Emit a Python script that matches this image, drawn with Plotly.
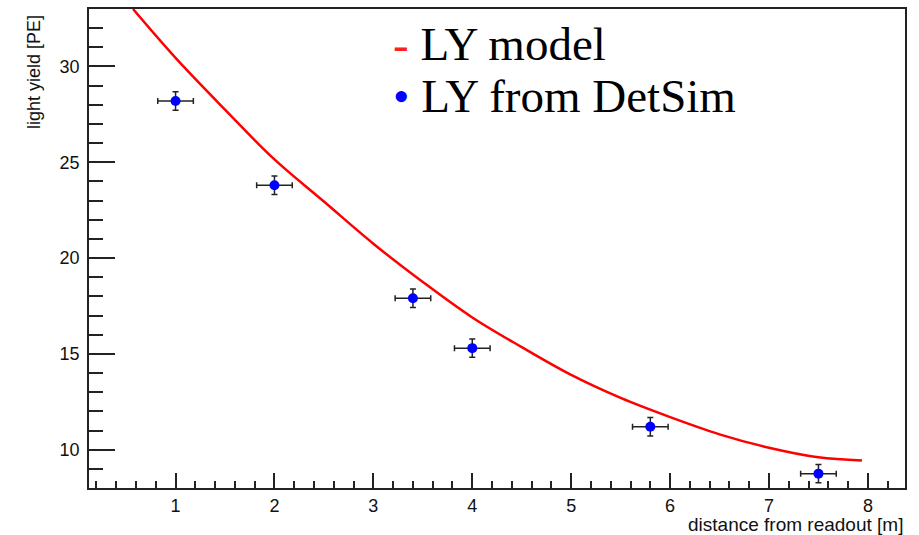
import plotly.graph_objects as go

# Simulated points (DetSim)
dist = [1.0, 2.0, 3.4, 4.0, 5.8, 7.5]
ly = [28.2, 23.8, 17.9, 15.3, 11.2, 8.75]
dist_err = [0.18, 0.18, 0.18, 0.18, 0.18, 0.18]
ly_err = [0.48, 0.48, 0.48, 0.48, 0.48, 0.48]

# LY model curve
model_x = [0.57, 1.0, 1.5, 2.0, 2.5, 3.0, 3.5, 4.0, 4.5, 5.0, 5.5, 6.0, 6.5, 7.0, 7.5, 7.94]
model_y = [33.0, 30.45, 27.75, 25.15, 22.95, 20.75, 18.75, 16.9, 15.35, 13.9, 12.7, 11.7, 10.8, 10.1, 9.6, 9.44]

x_title = "distance from readout [m]"
y_title = "light yield [PE]"
legend_model = "LY model"
legend_sim = "LY from DetSim"

W, H = 919, 535
L, R, T, B = 89, 14, 7, 47
pw, ph = W - L - R, H - T - B

def px_x(p):
    return (p - L) / pw

def px_y(p):
    return (H - B - p) / ph

fig = go.Figure()
fig.add_trace(go.Scatter(
    x=model_x, y=model_y, mode="lines", line=dict(color="#ff0000", width=2.5, shape="spline"),
    showlegend=False, hoverinfo="skip"))
fig.add_trace(go.Scatter(
    x=dist, y=ly, mode="markers",
    marker=dict(color="#0000ff", size=10),
    error_x=dict(type="data", array=dist_err, color="#222222", thickness=1.5, width=3),
    error_y=dict(type="data", array=ly_err, color="#222222", thickness=1.5, width=3),
    showlegend=False))

axis_common = dict(
    showline=True, linecolor="#222222", linewidth=1.8, mirror=True,
    showgrid=False, zeroline=False, ticks="inside", tickcolor="#222222", tickwidth=1.5,
    tickfont=dict(family="Liberation Sans, Arial, sans-serif", size=18, color="#111111"),
)

fig.update_xaxes(range=[0.125, 8.375], dtick=1, tick0=0, ticklen=15,
                 minor=dict(dtick=0.2, tick0=0, ticklen=7, ticks="inside", tickcolor="#222222", tickwidth=1.5),
                 ticklabelstandoff=0, **axis_common)
fig.update_yaxes(range=[8, 33], dtick=5, tick0=0, ticklen=26,
                 minor=dict(dtick=1, tick0=0, ticklen=14, ticks="inside", tickcolor="#222222", tickwidth=1.5),
                 ticklabelstandoff=4, **axis_common)

annots = [
    dict(text=x_title, xref="paper", yref="paper", x=px_x(904), y=px_y(536), xanchor="right", yanchor="bottom",
         borderpad=0, showarrow=False, font=dict(family="Liberation Sans, Arial, sans-serif", size=19, color="#111111")),
    dict(text=y_title, xref="paper", yref="paper", x=px_x(22), y=px_y(11), xanchor="left", yanchor="top",
         textangle=-90, showarrow=False, font=dict(family="Liberation Sans, Arial, sans-serif", size=18, color="#111111")),
    dict(text="<span style='color:#ff2020'>-</span> " + legend_model, xref="paper", yref="paper",
         x=px_x(391), y=px_y(42), xanchor="left", yanchor="middle", showarrow=False,
         font=dict(family="Liberation Serif, Times New Roman, serif", size=47, color="#000000")),
    dict(text="<span style='color:#0000ff'>•</span> " + legend_sim, xref="paper", yref="paper",
         x=px_x(391), y=px_y(94), xanchor="left", yanchor="middle", showarrow=False,
         font=dict(family="Liberation Serif, Times New Roman, serif", size=47, color="#000000")),
]

fig.update_layout(
    width=W, height=H, margin=dict(l=L, r=R, t=T, b=B),
    paper_bgcolor="white", plot_bgcolor="white", annotations=annots, showlegend=False,
)

fig.write_html("out.html")
